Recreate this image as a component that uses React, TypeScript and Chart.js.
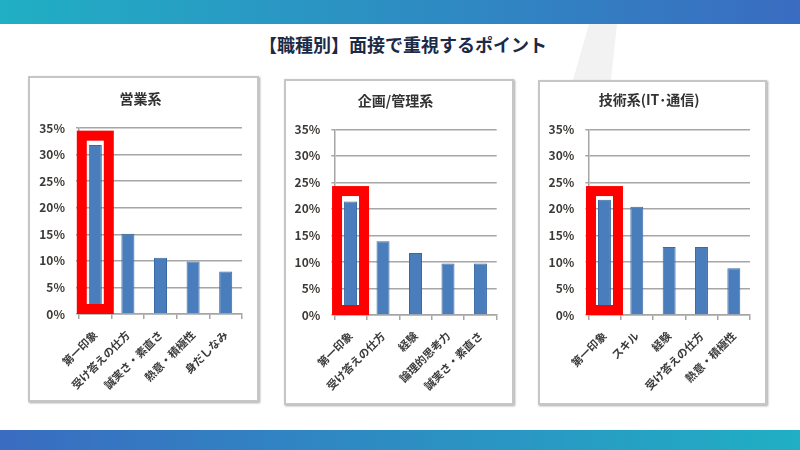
import React, { useEffect, useRef } from "react";
import { Chart, registerables } from "chart.js";

Chart.register(...registerables);

const pageTitle = "【職種別】面接で重視するポイント";

const chartTitles = ["営業系", "企画/管理系", "技術系(IT･通信)"];

const salesLabels = ["第一印象", "受け答えの仕方", "誠実さ・素直さ", "熱意・積極性", "身だしなみ"];
const salesValues = [31.8, 15.1, 10.6, 9.9, 8.0];

const planningLabels = ["第一印象", "受け答えの仕方", "経験", "論理的思考力", "誠実さ・素直さ"];
const planningValues = [21.4, 13.9, 11.7, 9.7, 9.7];

const techLabels = ["第一印象", "スキル", "経験", "受け答えの仕方", "熱意・積極性"];
const techValues = [21.7, 20.4, 12.8, 12.8, 8.8];

const yTicks = [0, 5, 10, 15, 20, 25, 30, 35];
// top value (in %) of the red highlight frame around the first category
const highlightTops = [34.5, 24.3, 24.3];

const FONT = '"Noto Sans CJK JP", "Noto Sans", sans-serif';

type PanelLayout = {
  left: number; top: number; width: number; height: number;
  padLeft: number; padRight: number; padBottom: number;
  titlePadTop: number; titlePadBottom: number;
};

const panelLayouts: PanelLayout[] = [
  { left: 28, top: 76, width: 231, height: 326, padLeft: 9, padRight: 15, padBottom: 6, titlePadTop: 12.6, titlePadBottom: 20.6 },
  { left: 284, top: 79, width: 230, height: 326, padLeft: 8.3, padRight: 15.3, padBottom: 8, titlePadTop: 11.6, titlePadBottom: 19.9 },
  { left: 538, top: 80, width: 229, height: 325, padLeft: 8.3, padRight: 15, padBottom: 8, titlePadTop: 9.6, titlePadBottom: 20.9 },
];

const highlightPlugin = {
  id: "highlightFrame",
  afterDatasetsDraw(chart: any, _args: any, opts: any) {
    const { ctx, scales } = chart;
    const x = scales.x.getPixelForValue(0);
    const yTop = scales.y.getPixelForValue(opts.top);
    const yBot = scales.y.getPixelForValue(0);
    const half = 18.5;
    const lw = 10;
    ctx.save();
    ctx.strokeStyle = "#ff0000";
    ctx.lineWidth = lw;
    ctx.strokeRect(x - half + lw / 2, yTop + lw / 2, half * 2 - lw, yBot - yTop - lw);
    ctx.restore();
  },
};

function ChartPanel({ idx, title, labels, values }: { idx: number; title: string; labels: string[]; values: number[] }) {
  const ref = useRef<HTMLCanvasElement>(null);
  const L = panelLayouts[idx];
  const cw = L.width - 4;
  const ch = L.height - 4;
  useEffect(() => {
    if (!ref.current) return;
    const chart = new Chart(ref.current, {
      type: "bar",
      data: {
        labels,
        datasets: [
          {
            data: values,
            backgroundColor: "#4a7dbb",
            borderColor: "#3b69a3",
            borderWidth: 1,
            categoryPercentage: 1,
            barPercentage: 0.4,
          },
        ],
      },
      options: {
        responsive: false,
        animation: false,
        layout: { padding: { left: L.padLeft, right: L.padRight, top: 0, bottom: L.padBottom } },
        plugins: {
          legend: { display: false },
          tooltip: { enabled: false },
          title: {
            display: true,
            text: title,
            color: "#333333",
            font: { family: FONT, size: 14, weight: "bold", lineHeight: 1.2 },
            padding: { top: L.titlePadTop, bottom: L.titlePadBottom },
          },
          highlightFrame: { top: highlightTops[idx] },
        } as any,
        scales: {
          x: {
            offset: true,
            grid: { display: true, drawOnChartArea: false, offset: true, color: "#a6a6a6", lineWidth: 1.5, tickLength: 5 },
            border: { display: true, color: "#a6a6a6", width: 1.5 },
            ticks: {
              autoSkip: false,
              minRotation: 45,
              maxRotation: 45,
              padding: 9,
              color: "#3a3a3a",
              font: { family: FONT, size: 11, weight: "bold" },
            },
            afterFit(scale: any) { scale.height = 80; },
          },
          y: {
            min: 0,
            max: 35,
            afterBuildTicks(scale: any) { scale.ticks = yTicks.map((v) => ({ value: v })); },
            grid: { color: "#a6a6a6", lineWidth: 1.5, tickLength: 3 },
            border: { display: true, color: "#a6a6a6", width: 1.5 },
            ticks: {
              padding: 11,
              color: "#3d3a36",
              font: { family: FONT, size: 12, weight: "bold" },
              callback: (v: any) => v + "%",
            },
            afterFit(scale: any) { scale.width = 40; },
          },
        },
      },
      plugins: [highlightPlugin],
    });
    return () => chart.destroy();
  }, []);
  return (
    <div
      style={{
        position: "absolute",
        left: L.left,
        top: L.top,
        width: L.width,
        height: L.height,
        boxSizing: "border-box",
        border: "2px solid #c6c6c6",
        boxShadow: "1px 1px 2px rgba(0,0,0,0.35)",
        background: "#fff",
      }}
    >
      <canvas ref={ref} width={cw} height={ch} style={{ display: "block", width: cw, height: ch }} />
    </div>
  );
}

export default function App() {
  return (
    <div style={{ position: "fixed", left: 0, top: 0, width: 800, height: 450, background: "#ffffff", overflow: "hidden", fontFamily: FONT }}>
      <div style={{ position: "absolute", left: 0, top: 0, width: 800, height: 24, background: "linear-gradient(to right, #20afc4, #3a6cc1)" }} />
      <div
        style={{
          position: "absolute", left: 0, top: 24, width: 800, height: 60, background: "#f2f2f2",
          clipPath: "polygon(589px 0px, 617px 0px, 611px 56px, 573px 56px)",
        }}
      />
      <div
        style={{
          position: "absolute", left: 0, top: 31, width: 806, textAlign: "center",
          fontSize: 18, fontWeight: 700, color: "#1b2a46", lineHeight: "26px",
        }}
      >
        {pageTitle}
      </div>
      <ChartPanel idx={0} title={chartTitles[0]} labels={salesLabels} values={salesValues} />
      <ChartPanel idx={1} title={chartTitles[1]} labels={planningLabels} values={planningValues} />
      <ChartPanel idx={2} title={chartTitles[2]} labels={techLabels} values={techValues} />
      <div style={{ position: "absolute", left: 0, top: 430, width: 800, height: 20, background: "linear-gradient(to right, #3a6cc1, #20afc4)" }} />
    </div>
  );
}
